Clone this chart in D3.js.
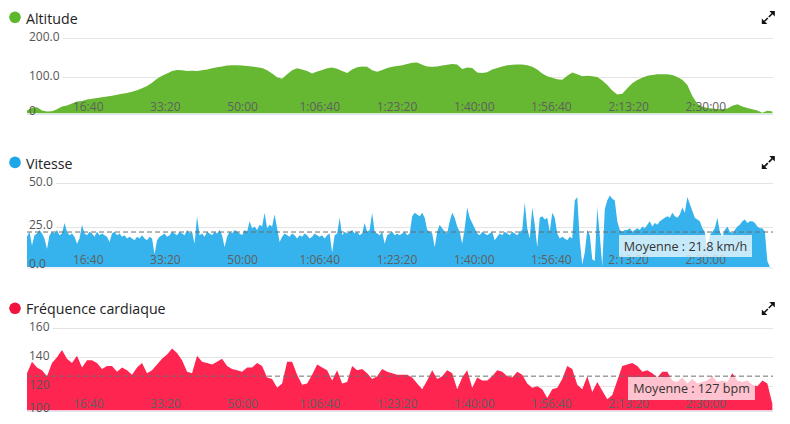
<!DOCTYPE html>
<html><head><meta charset="utf-8">
<script src="https://cdn.jsdelivr.net/npm/d3@7"></script>
<style>html,body{margin:0;padding:0;background:#fff}svg{display:block;font-family:"Open Sans",sans-serif}</style>
</head><body><svg id="c" width="790" height="424"></svg>
<script>
// ---- data ----
const startTime = 207;          // seconds, first sample
const altStep = 64.8;           // seconds between altitude samples
const altitude = [15,22,23,15,12,13,18,25,28,33,38,39,43,45,47,49,51,53,55,58,
60,63,67,72,78,86,96,104,110,116,119,118,116,117,116,118,120,123,126,128,
130,131,131,130,129,128,126,124,118,110,100,96,108,118,123,120,116,110,115,119,
123,125,122,116,111,120,126,128,127,118,114,119,124,127,129,131,134,137,138,132,
128,127,128,130,132,134,133,121,125,124,112,111,113,120,124,128,131,132,133,133,
131,127,120,110,103,99,95,94,104,112,108,103,104,103,101,92,80,66,56,58,
72,85,93,99,104,106,108,108,108,106,101,94,80,52,32,25,21,20,19,18,
20,27,31,25,21,18,15,9,14,12];

const speedStep = 32.4;
const speed = [19,22,14,20,21,23,21,18,12,20,
22,21,23,20,21,27,22,20,21,19,
15,18,26,21,20,22,21,19,22,20,
21,20,19,16,21,22,20,21,19,20,
18,19,18,17,19,18,20,18,17,19,
18,9,17,19,20,21,19,20,22,21,
20,22,21,20,23,21,22,15,31,20,
21,19,22,21,20,22,21,23,20,13,
19,22,21,23,22,21,20,23,22,28,
24,25,23,26,25,33,24,26,25,32,
24,16,19,21,20,19,21,20,18,20,
19,21,20,18,19,21,20,19,20,18,
20,21,10,20,21,30,20,22,21,22,
23,21,22,20,21,27,22,23,33,22,
21,20,22,15,20,21,22,20,21,20,
21,22,20,21,31,33,32,31,33,30,
23,22,21,13,22,26,24,22,21,28,
33,30,25,22,15,24,36,30,27,24,
21,20,22,21,20,21,22,17,19,21,
20,22,21,20,22,21,20,22,23,39,
24,18,36,26,13,30,31,29,30,22,
33,30,21,18,19,18,17,19,18,40,
42,17,3,10,23,20,6,5,36,20,
2,35,40,43,41,40,28,23,22,23,
23,24,22,23,24,23,25,24,26,28,
25,27,26,28,29,30,31,30,33,31,
30,32,36,33,42,38,34,30,29,28,
24,22,10,20,22,24,30,22,19,23,
25,22,21,23,25,26,28,29,27,28,
28,27,25,24,24,22,5,1,0];

const hrStep = 64.8;
const heartRate = [129,137,133,131,127,136,140,145,139,136,141,133,138,138,136,132,134,134,130,133,
131,128,133,136,129,131,135,139,142,146,143,138,130,129,141,137,136,135,137,139,
134,132,131,130,133,133,136,134,126,125,119,122,137,137,128,121,122,128,135,133,
131,124,131,122,123,134,131,132,129,125,127,132,130,129,128,128,128,126,122,118,
124,131,125,127,131,129,118,126,131,119,126,124,124,127,131,130,127,126,130,128,
122,119,120,118,112,118,119,125,134,132,121,118,127,116,123,117,111,114,124,134,
135,136,134,130,131,129,126,130,130,124,123,126,122,125,122,123,124,127,123,124,
123,129,124,123,124,121,120,124,122,108];

const speedAverage = 21.8;
const hrAverage = 127;
const timeTicks = [1000,2000,3000,4000,5000,6000,7000,8000,9000];
const altTicks = [200,100,0];
const altTickLabels = ["200.0","100.0","0"];
const speedTicks = [50,25,0];
const speedTickLabels = ["50.0","25.0","0.0"];
const hrTicks = [160,140,120,100];
const hrTickLabels = ["160","140","120","100"];

// ---- drawing ----
const svg = d3.select("#c");
const X0 = 27, X1 = 773;
const x = d3.scaleLinear().domain([0, 10000]).range([11, 783]);
function fmt(s){
  const h = Math.floor(s/3600), m = Math.floor((s%3600)/60), sec = s%60;
  const p = v => String(v).padStart(2,"0");
  return h > 0 ? `${h}:${p(m)}:${p(sec)}` : `${m}:${p(sec)}`;
}

const panels = [
  {id:"alt", title:"Altitude", dot:"#5cb82a", fill:"#66b832", values:altitude, step:altStep,
   domain:[0,200], range:[116.3,38.3], bottom:113.5, titleY:23.5, dotY:17.3,
   ticks:altTicks, labels:altTickLabels, grid:[200,100]},
  {id:"spd", title:"Vitesse", dot:"#1ea7e8", fill:"#36b3ec", values:speed, step:speedStep,
   domain:[0,50], range:[269.7,183.3], bottom:267, titleY:168.5, dotY:162.4,
   ticks:speedTicks, labels:speedTickLabels, grid:[50,25],
   avg:speedAverage, avgText:"Moyenne : 21.8 km/h", box:[619,235,133,22]},
  {id:"hr", title:"Fréquence cardiaque", dot:"#f2143f", fill:"#fe2651", values:heartRate, step:hrStep,
   domain:[100,160], range:[415.3,328.3], bottom:410.5, titleY:313.5, dotY:308.3,
   ticks:hrTicks, labels:hrTickLabels, grid:[160,140,120],
   avg:hrAverage, avgText:"Moyenne : 127 bpm", box:[628,377,127,23]}
];

panels.forEach(p => {
  const g = svg.append("g");
  const y = d3.scaleLinear().domain(p.domain).range(p.range);
  const top = p.range[1] - 6;
  // title
  g.append("circle").attr("cx",15).attr("cy",p.dotY).attr("r",5.8).attr("fill",p.dot);
  g.append("text").attr("x",26).attr("y",p.titleY).attr("font-size",14.2).attr("fill","#222").text(p.title);
  // expand icon
  const cx = 768.3, cy = p.dotY + 0.2;
  const ic = g.append("g").attr("fill","#111").attr("stroke","#111");
  ic.append("path").attr("stroke","none").attr("d",`M${cx+6.5},${cy-6.5}L${cx+1},${cy-6.5}L${cx+6.5},${cy-1}Z`);
  ic.append("path").attr("stroke","none").attr("d",`M${cx-6.5},${cy+6.5}L${cx-1},${cy+6.5}L${cx-6.5},${cy+1}Z`);
  ic.append("line").attr("x1",cx+4).attr("y1",cy-4).attr("x2",cx+0.5).attr("y2",cy-0.5).attr("stroke-width",1.6);
  ic.append("line").attr("x1",cx-4).attr("y1",cy+4).attr("x2",cx-0.5).attr("y2",cy+0.5).attr("stroke-width",1.6);

  // y labels (measure to start gridlines after them)
  const labelW = {};
  p.ticks.forEach((t,i) => {
    let cyL = y(t) - 1.5;
    if (cyL > p.bottom - 3) cyL = p.bottom - 3;
    const tx = g.append("text").attr("x",29).attr("y",cyL)
      .attr("dy","0.35em").attr("font-size",12).attr("fill","#555").text(p.labels[i]);
    labelW[t] = tx.node().getComputedTextLength();
    tx.remove();
    p["_lab"+i] = {y:cyL, text:p.labels[i]};
  });
  // gridlines
  p.grid.forEach(t => {
    g.append("line").attr("x1",29 + labelW[t] + 3).attr("x2",X1)
      .attr("y1",Math.round(y(t))+0.5).attr("y2",Math.round(y(t))+0.5)
      .attr("stroke","#e4e4e4").attr("stroke-width",1);
  });
  // bottom line
  g.append("line").attr("x1",X0).attr("x2",X1).attr("y1",p.bottom+1).attr("y2",p.bottom+1)
    .attr("stroke","#dfe4f2").attr("stroke-width",1.2);
  // clip
  const cid = "clip-"+p.id;
  svg.append("clipPath").attr("id",cid).append("rect")
    .attr("x",X0).attr("y",top).attr("width",X1-X0).attr("height",p.bottom-top);
  const data = p.values.map((v,i) => ({t:startTime + i*p.step, v}));
  const area = d3.area().x(d => x(d.t)).y0(p.bottom).y1(d => Math.min(y(d.v), p.bottom));
  g.append("path").datum(data).attr("clip-path",`url(#${cid})`)
    .attr("fill",p.fill).attr("d",area);
  // average line
  if (p.avg !== undefined) {
    g.append("line").attr("x1",X0).attr("x2",X1).attr("y1",y(p.avg)).attr("y2",y(p.avg))
      .attr("stroke","#6d6d6d").attr("stroke-dasharray","5,3").attr("stroke-width",1);
  }
  // x tick labels
  timeTicks.forEach(t => {
    g.append("text").attr("x",x(t)).attr("y",p.bottom-2.9).attr("text-anchor","middle")
      .attr("font-size",12).attr("fill","#5f5f5f").text(fmt(t));
  });
  // y labels
  p.ticks.forEach((t,i) => {
    const L = p["_lab"+i];
    g.append("text").attr("x",29).attr("y",L.y).attr("dy","0.35em")
      .attr("font-size",12).attr("fill","#555").text(L.text);
  });
  // average box
  if (p.box) {
    const [bx,by,bw,bh] = p.box;
    g.append("rect").attr("x",bx).attr("y",by).attr("width",bw).attr("height",bh)
      .attr("fill","rgba(255,255,255,0.72)");
    g.append("text").attr("x",bx+bw/2).attr("y",by+bh/2).attr("dy","0.36em")
      .attr("text-anchor","middle").attr("font-size",12.6).attr("fill","#333").text(p.avgText);
  }
});
</script></body></html>
